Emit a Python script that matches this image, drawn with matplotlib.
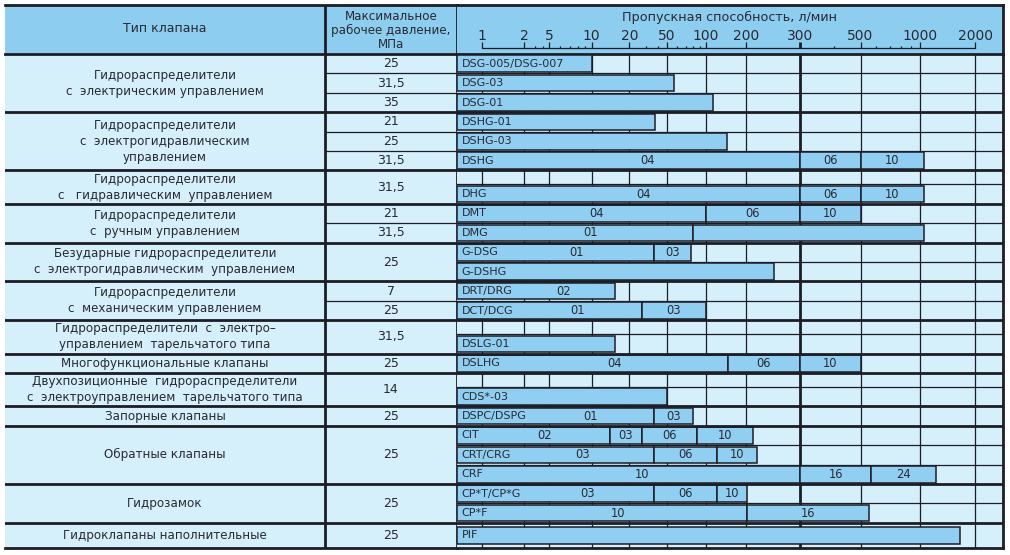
import numpy as np
import matplotlib
matplotlib.use('Agg')
import matplotlib.pyplot as plt

plt.rcParams['font.family'] = ['DejaVu Sans', 'Noto Sans']

# ---- axis definition (non-uniform scale of the original table) ----
TICK_VALUES = [1, 2, 5, 10, 20, 50, 100, 200, 300, 500, 1000, 2000]
TICK_LABELS = ['1', '2', '5', '10', '20', '50', '100', '200', '300', '500', '1000', '2000']
TICK_GAPS = [42.6, 25.0, 42.4, 37.6, 37.4, 39.3, 40.0, 54.0, 60.5, 59.9, 54.9]
MINOR_TICKS = [3, 4, 6, 7, 8, 9, 30, 40, 60, 70, 80, 90, 400, 600, 700, 800, 900]

AXIS_TITLE = 'Пропускная способность, л/мин'
COL_TYPE = 'Тип клапана'
COL_PRESSURE = 'Максимальное\nрабочее давление,\nМПа'

# ---- groups (left columns) ----
GROUP_NAMES = [
    'Гидрораспределители\nс  электрическим управлением',
    'Гидрораспределители\nс  электрогидравлическим\nуправлением',
    'Гидрораспределители\nс   гидравлическим  управлением',
    'Гидрораспределители\nс  ручным управлением',
    'Безударные гидрораспределители\nс  электрогидравлическим  управлением',
    'Гидрораспределители\nс  механическим управлением',
    'Гидрораспределители  с  электро–\nуправлением  тарельчатого типа',
    'Многофункциональные клапаны',
    'Двухпозиционные  гидрораспределители\nс  электроуправлением  тарельчатого типа',
    'Запорные клапаны',
    'Обратные клапаны',
    'Гидрозамок',
    'Гидроклапаны наполнительные',
]
GROUP_SIZES = [3, 3, 2, 2, 2, 2, 2, 1, 2, 1, 3, 2, 1]
GROUP_PRESSURES = [
    ['25', '31,5', '35'], ['21', '25', '31,5'], ['31,5'], ['21', '31,5'], ['25'],
    ['7', '25'], ['31,5'], ['25'], ['14'], ['25'], ['25'], ['25'], ['25'],
]

# ---- bar rows (None = empty spacer row) ----
ROW_MODELS = [
    'DSG-005/DSG-007', 'DSG-03', 'DSG-01',
    'DSHG-01', 'DSHG-03', 'DSHG',
    None, 'DHG',
    'DMT', 'DMG',
    'G-DSG', 'G-DSHG',
    'DRT/DRG', 'DCT/DCG',
    None, 'DSLG-01',
    'DSLHG',
    None, 'CDS*-03',
    'DSPC/DSPG',
    'CIT', 'CRT/CRG', 'CRF',
    'CP*T/CP*G', 'CP*F',
    'PIF',
]
ROW_LIMITS = [
    [10], [57], [113],
    [38], [145], [300, 500, 1040],
    None, [300, 500, 1040],
    [100, 300, 500], [80, 1040],
    [37, 77], [247],
    [15.4], [27, 100],
    None, [15.4],
    [146, 300, 500],
    None, [50],
    [37, 80],
    [14.1, 27, 86, 211], [37, 121, 218], [300, 566, 1222],
    [37, 121, 202], [202, 550],
    [1640],
]
ROW_SEG_LABELS = [
    [''], [''], [''],
    [''], [''], ['04', '06', '10'],
    None, ['04', '06', '10'],
    ['04', '06', '10'], ['01', ''],
    ['01', '03'], [''],
    ['02'], ['01', '03'],
    None, [''],
    ['04', '06', '10'],
    None, [''],
    ['01', '03'],
    ['02', '03', '06', '10'], ['03', '06', '10'], ['10', '16', '24'],
    ['03', '06', '10'], ['10', '16'],
    [''],
]

HEADER_BG = '#8dcdf0'
BODY_BG = '#d5effb'
BAR_COLOR = '#90cff1'
LINE = '#1d1d25'
TEXT = '#2a2a32'
LW_THICK = 2.0
LW_THIN = 0.9

_lt = np.log10(TICK_VALUES)
_pos = np.concatenate([[0.0], np.cumsum(TICK_GAPS)])


def fwd(v):
    lv = np.log10(np.clip(np.asarray(v, dtype=float), 1e-6, None))
    out = np.interp(lv, _lt, _pos)
    s0 = (_pos[1] - _pos[0]) / (_lt[1] - _lt[0])
    s1 = (_pos[-1] - _pos[-2]) / (_lt[-1] - _lt[-2])
    out = np.where(lv < _lt[0], _pos[0] + (lv - _lt[0]) * s0, out)
    out = np.where(lv > _lt[-1], _pos[-1] + (lv - _lt[-1]) * s1, out)
    return out


def inv(p):
    p = np.asarray(p, dtype=float)
    lv = np.interp(p, _pos, _lt)
    s0 = (_lt[1] - _lt[0]) / (_pos[1] - _pos[0])
    s1 = (_lt[-1] - _lt[-2]) / (_pos[-1] - _pos[-2])
    lv = np.where(p < _pos[0], _lt[0] + (p - _pos[0]) * s0, lv)
    lv = np.where(p > _pos[-1], _lt[-1] + (p - _pos[-1]) * s1, lv)
    return 10 ** lv


W, H = 1010, 555
fig = plt.figure(figsize=(W / 100, H / 100), dpi=100)
fig.patch.set_facecolor('white')


def box(x0, y0, x1, y1):
    return [x0 / W, 1 - y1 / H, (x1 - x0) / W, (y1 - y0) / H]


ax_lh = fig.add_axes(box(5, 5, 457, 54))
ax_lb = fig.add_axes(box(5, 54, 457, 548))
ax_h = fig.add_axes(box(457, 5, 1003, 54))
ax_b = fig.add_axes(box(457, 54, 1003, 548), sharex=ax_h)

for ax, bg in [(ax_lh, HEADER_BG), (ax_h, HEADER_BG), (ax_lb, BODY_BG), (ax_b, BODY_BG)]:
    ax.set_facecolor(bg)
    ax.set_xticks([])
    ax.set_yticks([])
    for sp in ax.spines.values():
        sp.set_visible(False)

ax_b.set_xscale('function', functions=(fwd, inv))
xlo = float(inv(-24.7))
xhi = float(inv(521.3))
ax_b.set_xlim(xlo, xhi)
ax_b.set_xticks([])
ax_b.minorticks_off()
ax_h.tick_params(which='both', length=0, labelbottom=False)

# row layout
heights = [0.72 if m is None else 1.0 for m in ROW_MODELS]
heights[-1] = 1.3
tops = np.concatenate([[0.0], np.cumsum(heights)])
total = tops[-1]
centers = tops[:-1] + np.array(heights) / 2

for ax in (ax_lb, ax_b):
    ax.set_ylim(total, 0)
ax_lb.set_xlim(0, 452)
ax_lh.set_xlim(0, 452)
ax_lh.set_ylim(49, 0)
ax_h.set_ylim(49, 0)

COL_SPLIT = 320

# outer frame
for ax in (ax_lh, ax_h):
    ax.spines['top'].set_visible(True)
    ax.spines['top'].set_linewidth(LW_THICK)
    ax.spines['top'].set_color(LINE)
for ax in (ax_lb, ax_b):
    ax.spines['top'].set_visible(True)
    ax.spines['top'].set_linewidth(LW_THICK)
    ax.spines['top'].set_color(LINE)
    ax.spines['bottom'].set_visible(True)
    ax.spines['bottom'].set_linewidth(LW_THICK)
    ax.spines['bottom'].set_color(LINE)
for ax in (ax_h, ax_b, ax_lh, ax_lb):
    ax.spines['right'].set_visible(True)
    ax.spines['right'].set_linewidth(LW_THICK)
    ax.spines['right'].set_color(LINE)
for ax in (ax_lh, ax_lb):
    ax.axvline(COL_SPLIT, color=LINE, lw=LW_THICK, zorder=5)

# vertical grid in the bar area
grid_w = [LW_THICK if v == 300 else LW_THIN for v in TICK_VALUES]
ax_b.vlines(TICK_VALUES, 0, total, colors=LINE, linewidths=grid_w, zorder=1)

# horizontal lines, group and pressure texts
row_idx = 0
group_bounds = set()
for gi, size in enumerate(GROUP_SIZES):
    g_top = tops[row_idx]
    g_bot = tops[row_idx + size]
    group_bounds.add(round(g_bot, 6))
    ax_lb.text(COL_SPLIT / 2, (g_top + g_bot) / 2, GROUP_NAMES[gi], ha='center', va='center',
               fontsize=8.6, color=TEXT, linespacing=1.3)
    pr = GROUP_PRESSURES[gi]
    pc = (COL_SPLIT + 452) / 2
    if len(pr) == 1:
        ax_lb.text(pc, (g_top + g_bot) / 2, pr[0], ha='center', va='center', fontsize=9, color=TEXT)
    else:
        real = [r for r in range(row_idx, row_idx + size) if ROW_MODELS[r] is not None]
        for r, p in zip(real, pr):
            ax_lb.text(pc, centers[r], p, ha='center', va='center', fontsize=9, color=TEXT)
        for r in real[1:]:
            ax_lb.hlines(tops[r], COL_SPLIT, 452, colors=LINE, linewidths=LW_THIN)
    if gi < len(GROUP_SIZES) - 1:
        ax_lb.axhline(g_bot, color=LINE, lw=LW_THICK, zorder=5)
        ax_b.axhline(g_bot, color=LINE, lw=LW_THICK, zorder=5)
    row_idx += size

for r in range(1, len(ROW_MODELS)):
    if round(tops[r], 6) not in group_bounds:
        ax_b.axhline(tops[r], color=LINE, lw=LW_THIN, zorder=2)

# bars
first_labels = []
for r, model in enumerate(ROW_MODELS):
    if model is None:
        continue
    ends = ROW_LIMITS[r]
    starts = [xlo] + ends[:-1]
    widths = [e - s for s, e in zip(starts, ends)]
    ax_b.barh([centers[r]] * len(ends), widths, left=starts, height=0.86,
              color=BAR_COLOR, edgecolor=LINE, linewidth=1.1, zorder=3)
    name = ax_b.annotate(model, (xlo, centers[r]), xytext=(3.2, 0), textcoords='offset points',
                         ha='left', va='center', fontsize=8, color=TEXT, zorder=4)
    labs = ROW_SEG_LABELS[r]
    for k in range(1, len(ends)):
        if labs[k]:
            mid = inv((fwd(starts[k]) + fwd(ends[k])) / 2)
            ax_b.text(float(mid), centers[r], labs[k], ha='center', va='center',
                      fontsize=8.3, color=TEXT, zorder=4)
    if labs[0]:
        first_labels.append((name, ends[0], centers[r], labs[0]))

fig.canvas.draw()
renderer = fig.canvas.get_renderer()
for name, end, yc, lab in first_labels:
    bb = name.get_window_extent(renderer)
    x_end_disp = ax_b.transData.transform((end, yc))[0]
    xm = (bb.x1 + x_end_disp) / 2
    xv = ax_b.transData.inverted().transform((xm, 0))[0]
    ax_b.text(xv, yc, lab, ha='center', va='center', fontsize=8.3, color=TEXT, zorder=4)

# header of the bar area: axis with ticks
ax_h.plot([TICK_VALUES[0], TICK_VALUES[-1]], [43.3, 43.3], color=LINE, lw=LW_THIN)
tick_w = [LW_THICK if v == 300 else LW_THIN for v in TICK_VALUES]
ax_h.vlines(TICK_VALUES, 37.3, 43.3, colors=LINE, linewidths=tick_w)
ax_h.vlines(MINOR_TICKS, 40.6, 43.3, colors=LINE, linewidths=LW_THIN)
for v, lab in zip(TICK_VALUES, TICK_LABELS):
    ax_h.text(v, 31.0, lab, ha='center', va='center', fontsize=10, color=TEXT)
ax_h.text(0.5, 12.5, AXIS_TITLE, transform=ax_h.get_yaxis_transform(), ha='center', va='center',
          fontsize=9.2, color=TEXT)

ax_lh.text(COL_SPLIT / 2, 23, COL_TYPE, ha='center', va='center', fontsize=9, color=TEXT)
ax_lh.text((COL_SPLIT + 452) / 2, 25.5, COL_PRESSURE, ha='center', va='center', fontsize=8.6,
           color=TEXT, linespacing=1.05)

fig.savefig('out.png', dpi=100, facecolor='white')
